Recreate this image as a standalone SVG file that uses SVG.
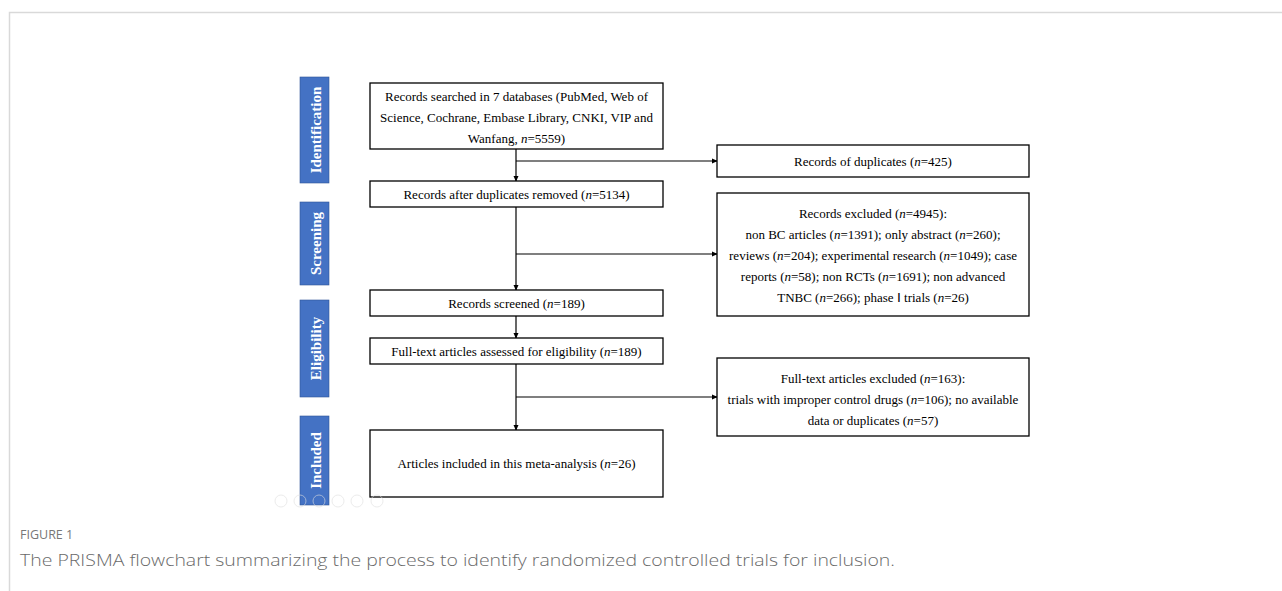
<svg xmlns="http://www.w3.org/2000/svg" width="1282" height="591" viewBox="0 0 1282 591">
<defs>
<style>
.bx{fill:#fff;stroke:#000;stroke-width:1.3}
.bar{fill:#4472c4;stroke:#2f5597;stroke-width:0.6}
.t{font-family:"Liberation Serif","Times New Roman",serif;font-size:13px;fill:#000;text-anchor:middle}
.bt{font-family:"Liberation Serif","Times New Roman",serif;font-size:15px;font-weight:bold;fill:#fff;text-anchor:middle}
.ln{stroke:#000;stroke-width:1.2;fill:none}
.ic{fill:none;stroke:#e0e0e0;stroke-width:1}
</style>
<marker id="ar" viewBox="0 0 8 8" refX="7" refY="4" markerWidth="6" markerHeight="6" orient="auto" markerUnits="userSpaceOnUse">
<path d="M0,0.5 L8,4 L0,7.5 z" fill="#000"/>
</marker>
</defs>
<rect width="1282" height="591" fill="#fff"/>
<path d="M9.5,591 L9.5,12.5 L1282,12.5" fill="none" stroke="#d9d9d9" stroke-width="1.5"/>

<g id="stage-identification"><rect class="bar" x="300" y="77" width="29" height="106"/><text class="bt" transform="translate(320.5,130) rotate(-90)">Identification</text></g>
<g id="stage-screening"><rect class="bar" x="300" y="202" width="29" height="83"/><text class="bt" transform="translate(320.5,243.5) rotate(-90)">Screening</text></g>
<g id="stage-eligibility"><rect class="bar" x="300" y="300" width="29" height="97"/><text class="bt" transform="translate(320.5,348.5) rotate(-90)">Eligibility</text></g>
<g id="stage-included"><rect class="bar" x="300" y="416" width="29" height="89"/><text class="bt" transform="translate(320.5,460.5) rotate(-90)">Included</text></g>

<g id="connectors">
<line class="ln" x1="516" y1="149" x2="516" y2="181" marker-end="url(#ar)"/>
<line class="ln" x1="516" y1="161" x2="717" y2="161" marker-end="url(#ar)"/>
<line class="ln" x1="516" y1="207" x2="516" y2="290" marker-end="url(#ar)"/>
<line class="ln" x1="516" y1="254" x2="717" y2="254" marker-end="url(#ar)"/>
<line class="ln" x1="516" y1="316" x2="516" y2="338" marker-end="url(#ar)"/>
<line class="ln" x1="516" y1="364" x2="516" y2="430" marker-end="url(#ar)"/>
<line class="ln" x1="516" y1="397" x2="717" y2="397" marker-end="url(#ar)"/>
</g>

<g id="n-searched"><rect class="bx" x="370" y="83" width="293" height="66"/>
<text class="t" x="516.5" y="101">Records searched in 7 databases (PubMed, Web of</text>
<text class="t" x="516.5" y="122">Science, Cochrane, Embase Library, CNKI, VIP and</text>
<text class="t" x="516.5" y="143">Wanfang, <tspan font-style="italic">n</tspan>=5559)</text></g>

<g id="n-after-dup"><rect class="bx" x="370" y="181" width="293" height="26"/>
<text class="t" x="516.5" y="198.5">Records after duplicates removed (<tspan font-style="italic">n</tspan>=5134)</text></g>

<g id="n-screened"><rect class="bx" x="370" y="290" width="293" height="26"/>
<text class="t" x="516.5" y="307.5">Records screened (<tspan font-style="italic">n</tspan>=189)</text></g>

<g id="n-fulltext"><rect class="bx" x="370" y="338" width="293" height="26"/>
<text class="t" x="516.5" y="355.5">Full-text articles assessed for eligibility (<tspan font-style="italic">n</tspan>=189)</text></g>

<g id="n-included"><rect class="bx" x="370" y="430" width="293" height="67"/>
<text class="t" x="516.5" y="468">Articles included in this meta-analysis (<tspan font-style="italic">n</tspan>=26)</text></g>

<g id="n-duplicates"><rect class="bx" x="717" y="145" width="312" height="32"/>
<text class="t" x="873" y="165.5">Records of duplicates (<tspan font-style="italic">n</tspan>=425)</text></g>

<g id="n-excluded"><rect class="bx" x="717" y="193" width="312" height="123"/>
<text class="t" x="873" y="218">Records excluded (<tspan font-style="italic">n</tspan>=4945):</text>
<text class="t" x="873" y="239">non BC articles (<tspan font-style="italic">n</tspan>=1391); only abstract (<tspan font-style="italic">n</tspan>=260);</text>
<text class="t" x="873" y="260">reviews (<tspan font-style="italic">n</tspan>=204); experimental research (<tspan font-style="italic">n</tspan>=1049); case</text>
<text class="t" x="873" y="281">reports (<tspan font-style="italic">n</tspan>=58); non RCTs (<tspan font-style="italic">n</tspan>=1691); non advanced</text>
<text class="t" x="873" y="302">TNBC (<tspan font-style="italic">n</tspan>=266); phase Ⅰ trials (<tspan font-style="italic">n</tspan>=26)</text></g>

<g id="n-ft-excluded"><rect class="bx" x="717" y="358" width="312" height="78"/>
<text class="t" x="873" y="383">Full-text articles excluded (<tspan font-style="italic">n</tspan>=163):</text>
<text class="t" x="873" y="404">trials with improper control drugs (<tspan font-style="italic">n</tspan>=106); no available</text>
<text class="t" x="873" y="425">data or duplicates (<tspan font-style="italic">n</tspan>=57)</text></g>

<g id="toolbar" opacity="0.6">
<circle class="ic" cx="281" cy="501" r="6"/><circle class="ic" cx="300" cy="501" r="6"/><circle class="ic" cx="319" cy="501" r="6"/><circle class="ic" cx="338" cy="501" r="6"/><circle class="ic" cx="357" cy="501" r="6"/><circle class="ic" cx="377" cy="501" r="6"/>
</g>

<g id="caption">
<text x="20" y="539" font-family="'Open Sans','Noto Sans',sans-serif" font-size="12.5" fill="#777">FIGURE 1</text>
<text x="20" y="566" font-family="'Open Sans','Noto Sans',sans-serif" font-size="17" font-weight="300" fill="#6a6a6a" textLength="875" lengthAdjust="spacingAndGlyphs">The PRISMA flowchart summarizing the process to identify randomized controlled trials for inclusion.</text>
</g>
</svg>
